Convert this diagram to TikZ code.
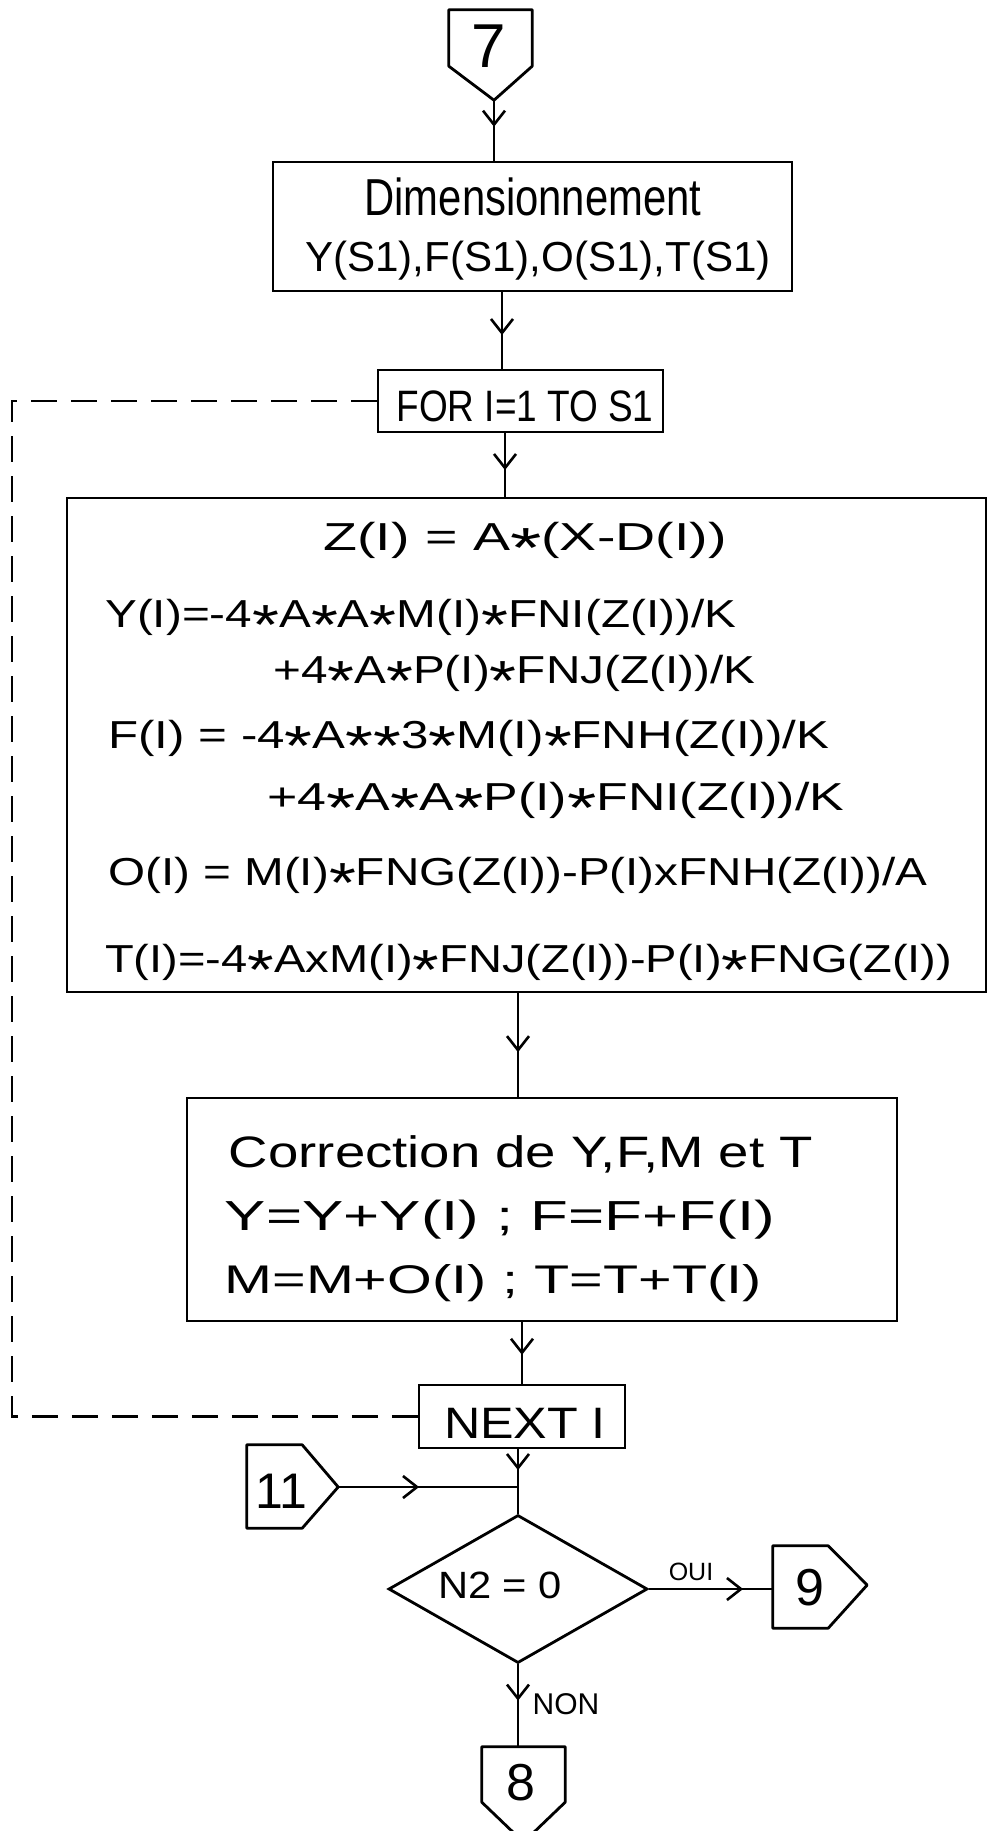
\documentclass[tikz,border=0pt]{standalone}
\usepackage{fontspec}
\setmainfont{Liberation Sans}
\usepackage{graphicx}
\usetikzlibrary{arrows.meta,decorations.markings,shapes.geometric,calc}

% stretch a line of text horizontally to a given width, keeping its height
\newcommand\hfit[2]{\resizebox{#1}{\height}{#2}}
% multiplication star, enlarged and set at mid height
\newcommand\st{\raisebox{-0.46em}{\scalebox{1.45}{*}}}
\newcommand\fs[1]{\fontsize{#1}{#1}\selectfont}

\begin{document}
\begin{tikzpicture}[x=1pt,y=-1pt,
  box/.style={draw, line width=2.8pt, inner sep=0pt},
  conn/.style={inner sep=0pt},
  outline/.style={line width=2.8pt, line join=round},
  txt/.style={inner sep=0pt, anchor=base},
  ltxt/.style={inner sep=0pt, anchor=base west},
  flow/.style={line width=2.6pt},
  arr/.style={postaction={decorate}, decoration={markings,
      mark=at position #1 with {\arrow{Straight Barb[length=14pt,width=22pt,line width=2.6pt]}}}},
  loopline/.style={line width=2.4pt, dash pattern=on 26pt off 14pt}]

\fill[white] (0,0) rectangle (990,1831);
\useasboundingbox (0,0) rectangle (990,1831);

% ---- off-page connector 7 (entry)
\node[conn, minimum width=83, minimum height=56] (c7) at (490.5,38) {};
\coordinate (c7tip) at ($(c7.south)+(3.5,34)$);
\draw[outline] (c7.north west) -- (c7.north east) -- (c7.south east) -- (c7tip) -- (c7.south west) -- cycle;
\node[txt] (n7) at (489,67) {\fs{62}7};

% ---- dimensioning box
\node[box, minimum width=519, minimum height=129] (dim) at (532.5,226.5) {};
\node[txt] (dim1) at (533,215) {\fs{52}\hfit{337pt}{Dimensionnement}};
\node[txt] (dim2) at (538,271) {\fs{42}\hfit{466pt}{Y(S1),F(S1),O(S1),T(S1)}};

% ---- loop head
\node[box, minimum width=285, minimum height=62] (for) at (520.5,401) {};
\node[txt] (fortxt) at (525,421) {\fs{44}\hfit{257pt}{FOR I=1 TO S1}};

% ---- computation box
\node[box, minimum width=919, minimum height=494] (big) at (526.5,745) {};
\node[txt] (t1) at (525,550) {\fs{39}\hfit{403pt}{Z(I) = A\st(X-D(I))}};
\node[ltxt] (t2) at (105,627) {\fs{39}\hfit{631pt}{Y(I)=-4\st A\st A\st M(I)\st FNI(Z(I))/K}};
\node[ltxt] (t3) at (273,683) {\fs{39}\hfit{482pt}{+4\st A\st P(I)\st FNJ(Z(I))/K}};
\node[ltxt] (t4) at (108,748) {\fs{39}\hfit{721pt}{F(I) = -4\st A\st\st 3\st M(I)\st FNH(Z(I))/K}};
\node[ltxt] (t5) at (267,810) {\fs{39}\hfit{577pt}{+4\st A\st A\st P(I)\st FNI(Z(I))/K}};
\node[ltxt] (t6) at (108,885) {\fs{39}\hfit{819pt}{O(I) = M(I)\st FNG(Z(I))-P(I)xFNH(Z(I))/A}};
\node[ltxt] (t7) at (105,972) {\fs{39}\hfit{847pt}{T(I)=-4\st AxM(I)\st FNJ(Z(I))-P(I)\st FNG(Z(I))}};

% ---- correction box
\node[box, minimum width=710, minimum height=223] (corr) at (542,1209.5) {};
\node[txt] (c1) at (521,1167) {\fs{44}\hfit{584pt}{Correction de Y,F,M et T}};
\node[txt] (c2) at (500,1230) {\fs{42}\hfit{550pt}{Y=Y+Y(I) ; F=F+F(I)}};
\node[txt] (c3) at (493,1293) {\fs{40}\hfit{537pt}{M=M+O(I) ; T=T+T(I)}};

% ---- loop end
\node[box, minimum width=206, minimum height=63] (next) at (522,1416.5) {};
\node[txt] (nexttxt) at (525,1438) {\fs{44}\hfit{162pt}{NEXT I}};

% ---- test
\node[draw, diamond, line width=2.8pt, inner sep=0pt, minimum width=259, minimum height=148] (dia) at (518,1589) {};
\node[txt] (diatxt) at (500,1598) {\fs{38}\hfit{124pt}{N2 = 0}};

% ---- off-page connector 11 (re-entry)
\node[conn, minimum width=55, minimum height=83] (c11) at (274.5,1486.5) {};
\coordinate (c11tip) at ($(c11.east)+(36,0.5)$);
\draw[outline] (c11.north west) -- (c11.north east) -- (c11tip) -- (c11.south east) -- (c11.south west) -- cycle;
\node[txt] (n11) at (281,1508) {\fs{50}11};

% ---- off-page connector 9 (yes)
\node[conn, minimum width=55, minimum height=82] (c9) at (800.5,1587) {};
\coordinate (c9tip) at ($(c9.east)+(39,-2)$);
\draw[outline] (c9.north west) -- (c9.north east) -- (c9tip) -- (c9.south east) -- (c9.south west) -- cycle;
\node[txt] (n9) at (810,1605) {\fs{52}9};

% ---- off-page connector 8 (no)
\node[conn, minimum width=83, minimum height=55] (c8) at (523.5,1774.5) {};
\coordinate (c8tip) at ($(c8.south)+(0,40)$);
\draw[outline] (c8.north west) -- (c8.north east) -- (c8.south east) -- (c8tip) -- (c8.south west) -- cycle;
\node[txt] (n8) at (521,1800) {\fs{52}8};

% ---- flow lines
\coordinate (s2) at (502,0);
\coordinate (s3) at (505,0);
\coordinate (join) at (518,1487);
\coordinate (loopx) at (12,0);

\draw[flow, arr=0.44] (c7tip) -- (c7tip |- dim.north);
\draw[flow, arr=0.56] (dim.south -| s2) -- (for.north -| s2);
\draw[flow, arr=0.58] (for.south -| s3) -- (big.north -| s3);
\draw[flow, arr=0.57] (big.south -| join) -- (corr.north -| join);
\draw[flow, arr=0.53] (corr.south -| next.north) -- (next.north);
\draw[flow, arr=0.55] (next.south -| join) -- (join);
\draw[flow] (join) -- (dia.north);
\draw[flow, arr=0.45] (c11tip) -- (join);
\draw[flow, arr=0.76] (dia.east) -- (dia.east -| c9.west);
\draw[flow, arr=0.44] (dia.south) -- (dia.south |- c8.north);

% ---- loop return (dashed)
\draw[loopline] (for.west) -- (for.west -| loopx) -- (next.west -| loopx) -- (next.west);

% ---- branch labels
\node[txt] (oui) at (691,1580) {\fs{25}OUI};
\node[txt] (non) at (566,1714) {\fs{30}NON};

\end{tikzpicture}
\end{document}
